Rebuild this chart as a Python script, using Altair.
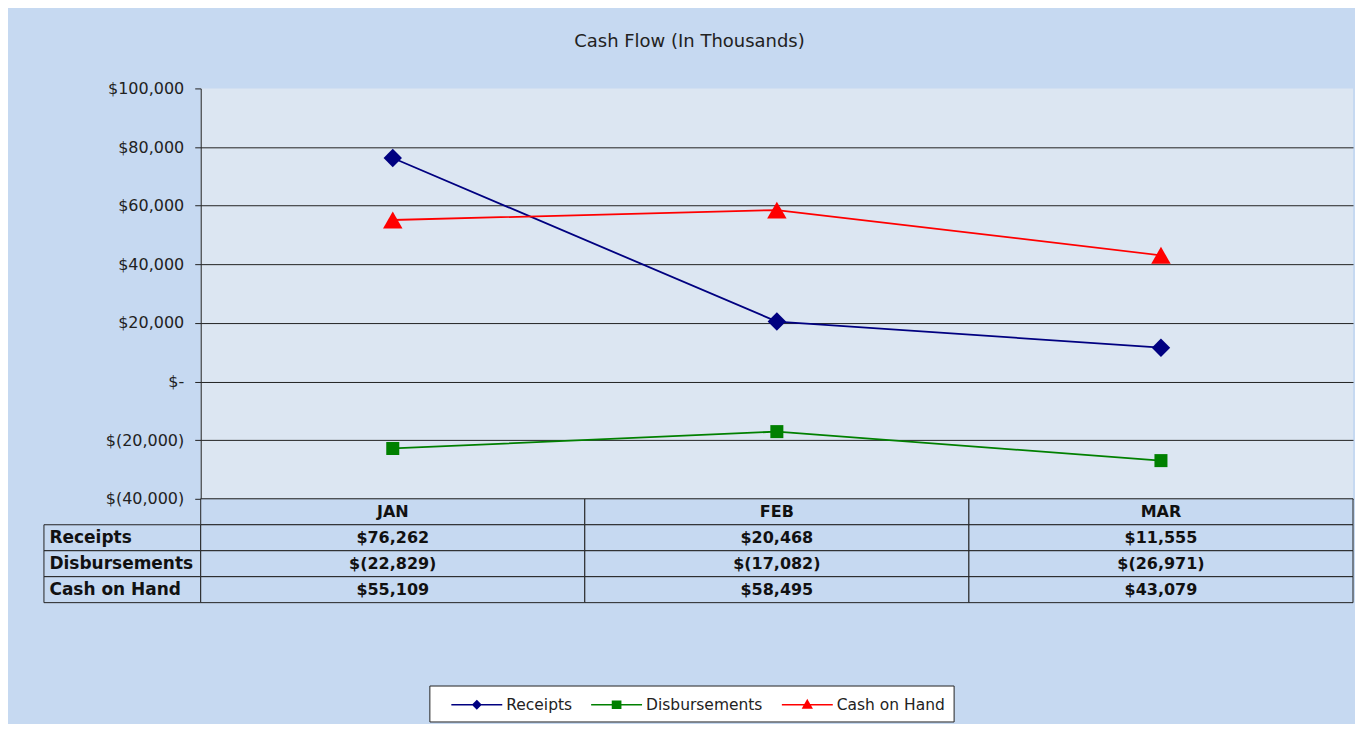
import altair as alt
import pandas as pd

months = ["JAN", "FEB", "MAR"]
series = ["Receipts", "Disbursements", "Cash on Hand"]
receipts = [76262, 20468, 11555]
disbursements = [-22829, -17082, -26971]
cash_on_hand = [55109, 58495, 43079]
y_ticks = [-40000, -20000, 0, 20000, 40000, 60000, 80000, 100000]
colors = ["#000080", "#008000", "#FF0000"]
shapes = ["diamond", "square", "triangle-up"]
shape_sizes = [340, 170, 380]
legend_shapes = [
    "M0.3,0H5.4M2.85,-0.38L3.23,0L2.85,0.38L2.47,0ZM2.85,-0.22L3.07,0L2.85,0.22L2.63,0Z"
    "M2.85,-0.08L2.93,0L2.85,0.08L2.77,0Z",
    "M0.3,0H5.4M2.45,-0.35H3.25V0.35H2.45ZM2.6,-0.2H3.1V0.2H2.6ZM2.75,-0.05H2.95V0.05H2.75Z",
    "M0.3,0H5.4M2.85,-0.42L3.27,0.32H2.43ZM2.85,-0.2L3.07,0.2H2.63ZM2.85,0L2.93,0.12H2.77Z",
]

FONT = "DejaVu Sans"
BG = "#C6D9F1"
PLOT_BG = "#DCE6F2"
LINE = "#222222"

values = {"Receipts": receipts, "Disbursements": disbursements, "Cash on Hand": cash_on_hand}
rows = []
for s in series:
    for m, v in zip(months, values[s]):
        rows.append({"series": s, "month": m, "value": v})
df = pd.DataFrame(rows)


def money(v):
    return "$({:,})".format(-v) if v < 0 else "${:,}".format(v)


trow = []
for m in months:
    trow.append({"row": "hdr", "month": m, "text": m})
for s in series:
    for m, v in zip(months, values[s]):
        trow.append({"row": s, "month": m, "text": money(v)})
tdf = pd.DataFrame(trow)
row_order = ["hdr"] + series

NB = "\u00a0"
label_expr = (
    "datum.value == 0 ? '$-" + NB * 3 + "' : (datum.value < 0 ? '$(' + format(-datum.value, ',') + ')' "
    ": '$' + format(datum.value, ',') + '" + NB + "')"
)

x_top = alt.X("month:N", sort=months, scale=alt.Scale(type="point", padding=0.5), axis=None)
y_top = alt.Y(
    "value:Q",
    scale=alt.Scale(domain=[-40000, 100000], nice=False, zero=False),
    axis=alt.Axis(
        values=y_ticks, labelExpr=label_expr, title=None, grid=True,
        gridColor=LINE, gridOpacity={"condition": {"test": "datum.value == 100000", "value": 0}, "value": 1},
        domainColor=LINE, tickColor=LINE, tickSize=6, labelPadding=11,
        labelFont=FONT, labelFontSize=16, labelColor="#222222",
    ),
)
color = alt.Color(
    "series:N", sort=series, scale=alt.Scale(domain=series, range=colors),
    legend=alt.Legend(
        title=None, orient="none", legendX=229, legendY=598, direction="horizontal", columns=3,
        fillColor="white", strokeColor="#222222", padding=8, columnPadding=5,
        labelFont=FONT, labelFontSize=15.5, labelColor="#222222", labelOffset=47,
        symbolSize=400, symbolStrokeWidth=1.7, symbolOpacity=1,
    ),
)

base = alt.Chart(df)
lines = base.mark_line(strokeWidth=1.8).encode(x=x_top, y=y_top, color=color)
point_layers = [
    base.transform_filter(alt.datum.series == s).mark_point(
        filled=True, opacity=1, size=sz, shape=shp
    ).encode(x=x_top, y=y_top, color=color)
    for s, shp, sz in zip(series, shapes, shape_sizes)
]
legend_layer = base.mark_point(filled=True, opacity=0, size=400).encode(
    x=x_top, y=y_top, color=color,
    shape=alt.Shape("series:N", sort=series, scale=alt.Scale(domain=series, range=legend_shapes),
                    legend=alt.Legend(title=None)),
)
top = alt.layer(legend_layer, lines, *point_layers).properties(
    width=1154, height=411, view=alt.ViewBackground(fill=PLOT_BG, stroke=None)
)

x_tab = alt.X("month:N", sort=months, scale=alt.Scale(type="band", paddingInner=0, paddingOuter=0), axis=None)
y_tab = alt.Y(
    "row:N", sort=row_order, scale=alt.Scale(domain=row_order, paddingInner=0, paddingOuter=0),
    axis=alt.Axis(
        title=None, ticks=False, tickSize=0, domain=False, labelAlign="left", labelPadding=152,
        labelExpr="datum.value == 'hdr' ? '' : datum.value", labelFont=FONT, labelFontSize=17,
        labelFontWeight="bold", labelColor="#111111", zindex=1,
    ),
)
tbase = alt.Chart(tdf)
cells = tbase.mark_rect(fill=BG, stroke=LINE, strokeWidth=1).encode(x=x_tab, y=y_tab)
label_cells = tbase.transform_filter("datum.row != 'hdr' && datum.month == 'JAN'").mark_rect(
    fill=BG, stroke=LINE, strokeWidth=1
).encode(x=alt.value(-157), x2=alt.value(0), y=y_tab)
texts = tbase.mark_text(font=FONT, fontSize=16, fontWeight="bold", color="#111111").encode(
    x=x_tab, y=y_tab, text="text:N"
)
table = alt.layer(label_cells, cells, texts).properties(
    width=1154, height=104, view=alt.ViewBackground(fill=None, stroke=None)
)

chart = alt.vconcat(top, table, spacing=0, bounds="flush").properties(
    title=alt.Title("Cash Flow (In Thousands)", font=FONT, fontSize=18, fontWeight="normal",
                    color="#222222", anchor="middle", offset=29, dx=-9),
    padding={"left": 35, "top": 25, "right": 1, "bottom": 1},
    background=BG,
)

chart.save("out.html", embed_options={"renderer": "svg", "actions": False})
